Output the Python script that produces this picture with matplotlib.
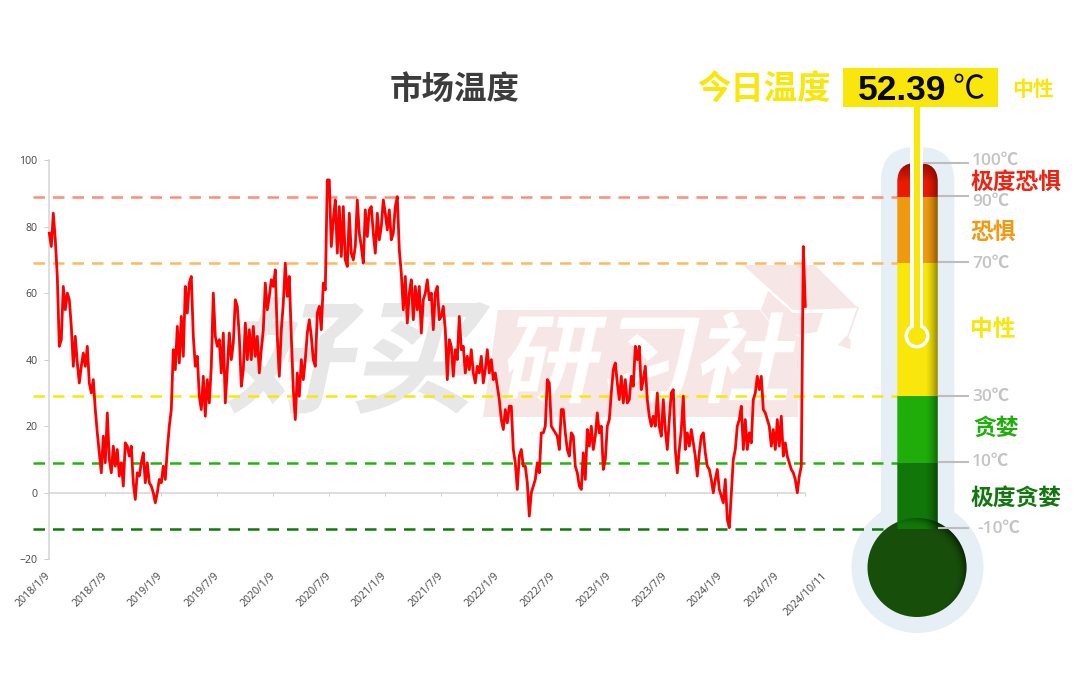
import numpy as np
import matplotlib
matplotlib.use("Agg")
import matplotlib.pyplot as plt
from matplotlib.patches import Rectangle, Circle, FancyBboxPatch, Polygon
from matplotlib.patheffects import AbstractPathEffect
from matplotlib.transforms import Affine2D, ScaledTranslation

plt.rcParams['font.family'] = ['Open Sans', 'Noto Sans CJK SC', 'DejaVu Sans']
CJK = ['Noto Sans CJK SC', 'DejaVu Sans']

# ---------- data ----------
h2018a = [78,74,84,76,65,44,46,62,55,60,58,50,38,47,39,33,38,42,38,44,33,30,34,25,18,12,6,17]
h2018b = [9,24,10,6,14,8,13,5,9,2,15,14,11,14,3,-2,6,5,9,12,3,9,3,2,0,-3,0,4]
h2019a = [3,8,4,13,20,25,43,37,50,39,53,41,62,54,63,65,47,38,41,29,25,35,23,34,27,38,60,47]
h2019b = [44,46,36,48,27,37,48,40,45,58,56,47,32,37,51,40,49,40,50,41,47,36,43,49,63,55,59,64]
h2020a = [62,67,47,35,49,57,69,59,65,47,31,22,36,29,40,34,40,48,52,47,40,38,54,56,49,63,61,94]
h2020b = [94,74,82,88,72,86,71,86,70,68,84,72,70,74,88,78,74,69,85,77,85,86,78,72,84,76,80,88]
h2021a = [84,79,85,76,78,86,89,73,66,55,65,51,60,64,52,62,55,62,48,58,60,64,58,60,49,60,62,52]
h2021b = [53,56,49,34,46,44,35,43,40,53,43,44,36,41,37,43,36,33,38,36,41,33,37,43,36,40,34,36]
h2022a = [32,28,22,19,25,21,26,26,13,9,1,11,13,8,8,3,-7,0,2,4,9,6,18,18,20,34,33,20]
h2022b = [19,18,17,13,25,25,18,13,11,18,17,8,6,2,1,12,4,19,14,20,13,17,24,18,20,7,10,20]
h2023a = [22,30,37,39,33,28,35,27,34,27,28,35,32,44,40,44,31,34,38,28,23,20,23,20,30,20,17,28]
h2023b = [19,13,22,30,31,13,6,13,19,29,13,18,14,19,15,11,5,12,17,18,12,8,7,4,0,4,7,1]
h2024a = [-1,-3,4,-8,-10.5,0,10,13,20,22,26,13,22,13,18,15,28,30,35,31,35,25,24,22,20,14,19,13]
h2024b = [22,14,23,11,15,11,9,7,6,4,0,5,8,74,56]
temperature = h2018a+h2018b+h2019a+h2019b+h2020a+h2020b+h2021a+h2021b+h2022a+h2022b+h2023a+h2023b+h2024a+h2024b

tick_labels = ['2018/1/9','2018/7/9','2019/1/9','2019/7/9','2020/1/9','2020/7/9','2021/1/9','2021/7/9',
               '2022/1/9','2022/7/9','2023/1/9','2023/7/9','2024/1/9','2024/7/9','2024/10/11']
tick_index = [0,28,56,84,112,140,168,196,224,252,280,308,336,364,378]
y_ticks = [-20,0,20,40,60,80,100]
thresholds = [88.9,69,29.2,8.9,-11]
threshold_colors = ['#FF8C78','#FFB85E','#FAE60A','#22B50F','#0E7A08']

W, H = 1080, 679
fig = plt.figure(figsize=(W/100, H/100), dpi=100, facecolor='white')

class Skew(AbstractPathEffect):
    def __init__(self, deg, x0, y0):
        super().__init__()
        self.deg, self.x0, self.y0 = deg, x0, y0
    def draw_path(self, renderer, gc, tpath, affine, rgbFace=None):
        t = affine + Affine2D().translate(-self.x0,-self.y0).skew_deg(self.deg,0).translate(self.x0,self.y0)
        renderer.draw_path(gc, tpath, t, rgbFace)

def px_axes(z):
    a = fig.add_axes([0,0,1,1], zorder=z)
    a.set_xlim(0,W); a.set_ylim(H,0); a.axis('off'); a.patch.set_alpha(0)
    return a

# ---------- background: watermark + halo ----------
bg = px_axes(0)
GR, PK = '#E7E7E7', '#F6E6E6'
bg.text(358,366,'好买',fontsize=90,fontweight=900,family=CJK,color=GR,ha='center',va='center',
        path_effects=[Skew(12,358,H-366)])
bg.add_patch(Polygon([(483,417),(498,310),(760,310),(772,326),(800,337),(798,417)],fc=PK,ec='none'))
bg.text(650,366,'研习社',fontsize=70,fontweight=900,family=CJK,color='white',ha='center',va='center',
        path_effects=[Skew(12,650,H-366)])
bg.add_patch(Polygon([(743,265),(815,265),(858,308),(793,310)],fc=PK,ec='none'))
bg.add_patch(Polygon([(768,291),(793,313),(823,313),(817,332),(795,335),(775,328),(761,310)],fc=PK,ec='none'))
bg.plot([858,846],[308,342],color=PK,lw=1.2)
bg.add_patch(Polygon([(838,345),(846,336),(851,340),(850,349)],fc=PK,ec='none'))

HALO = '#E6EEF6'
bg.add_patch(FancyBboxPatch((881,147),73.3,400,boxstyle='round,pad=0,rounding_size=34',fc=HALO,ec='none'))
bg.add_patch(Circle((917.5,567),66,fc=HALO,ec='none'))

# ---------- chart ----------
ax = fig.add_axes([49.3/W,(H-559.3)/H,756/W,399.3/H],zorder=1)
ax.patch.set_alpha(0)
ax.set_xlim(0,378); ax.set_ylim(-20,100)
xa, xb = (33-49.3)/756, (905-49.3)/756
for v,c in zip(thresholds,threshold_colors):
    ax.plot([xa,xb],[v,v],transform=ax.get_yaxis_transform(),color=c,lw=1.8,
            dashes=(4.6,3.2),dash_capstyle='butt',clip_on=False,zorder=2)
ax.plot(np.arange(len(temperature)),temperature,color='#FF0000',lw=2.0,clip_on=False,zorder=3,solid_joinstyle='round')
for s in ('top','right'):
    ax.spines[s].set_visible(False)
ax.spines['bottom'].set_position(('data',0))
for s in ('left','bottom'):
    ax.spines[s].set_color('#D4D4D4'); ax.spines[s].set_linewidth(1.1)
ax.set_yticks(y_ticks)
ax.set_xticks(tick_index)
ax.set_xticklabels(tick_labels,rotation=45,ha='right',va='center',rotation_mode='anchor')
ax.tick_params(axis='y',length=3.5,width=0.7,color='#CCCCCC',labelcolor='#444444',labelsize=7.6,pad=5)
ax.tick_params(axis='x',length=2.5,width=0.7,color='#CCCCCC',labelcolor='#444444',labelsize=7.6,pad=56)
last = ax.get_xticklabels()[-1]
last.set_transform(last.get_transform()+ScaledTranslation(20/100,0,fig.dpi_scale_trans))

# ---------- thermometer ----------
top = px_axes(2)
L, R = 897.3, 937.7
clip = FancyBboxPatch((L,163),R-L,380,boxstyle='round,pad=0,rounding_size=19',fc='none',ec='none')
top.add_patch(clip)
top.add_patch(Circle((917,567.5),49.5,fc='#174E0A',ec='none'))
bands = [(163,197,'#EA1B00'),(197,263,'#EF9A0C'),(263,396,'#F9E60A'),(396,463,'#1FAE09'),(463,529,'#117708')]
for y0,y1,c in bands:
    r = Rectangle((L,y0),R-L,y1-y0,fc=c,ec='none'); top.add_patch(r); r.set_clip_path(clip)
xx = np.linspace(L,R,80)
a = np.clip((xx-925)/(R-925),0,1)**1.6*0.42
img = np.zeros((1,80,4)); img[...,3] = a
im = top.imshow(img,extent=(L,R,529,163),aspect='auto',zorder=3,interpolation='bilinear')
im.set_clip_path(clip)
yy = np.linspace(163,182,40)
img2 = np.zeros((40,1,4)); img2[...,0] = 0.35; img2[...,3] = np.clip(1-(yy-163)/19,0,1)[:,None]*0.6
im2 = top.imshow(img2,extent=(L,R,182,163),aspect='auto',zorder=3,interpolation='bilinear')
im2.set_clip_path(clip)
gx,gy = np.meshgrid(np.linspace(867,967,200),np.linspace(517,618,200))
d = np.hypot(gx-909,gy-573)
img3 = np.zeros((200,200,4)); img3[...,3] = np.clip((d-47)/12,0,1)**2*0.55
im3 = top.imshow(img3,extent=(867,967,618,517),aspect='auto',zorder=1,interpolation='bilinear')
bulb_clip = Circle((917,567.5),49.5,transform=top.transData)
im3.set_clip_path(bulb_clip)
top.set_xlim(0,W); top.set_ylim(H,0)

# stem
YEL = '#F9E60A'
top.add_patch(Rectangle((910.3,100),13,232,fc='white',ec='none',zorder=4))
top.add_patch(Circle((917,336),12.5,fc='white',ec='none',zorder=4))
top.add_patch(Circle((917,336),9,fc=YEL,ec='none',zorder=5))
top.add_patch(Rectangle((914,100),6,236,fc=YEL,ec='none',zorder=5))
top.add_patch(Rectangle((843,68),155,39,fc=YEL,ec='none',zorder=6))

# scale marks
GREY = '#BDBDBD'
for y,x0 in [(162.7,923),(196,938),(262.3,938),(395.7,938),(462,938),(528.3,938)]:
    top.plot([x0,969],[y,y],color=GREY,lw=1.5,zorder=4,solid_capstyle='butt')
for s,x,y in [('100℃',972,160.5),('90℃',972,202),('70℃',972,263.5),('30℃',972,397),('10℃',972,462),('-10℃',977,528.5)]:
    top.text(x,y,s,fontsize=12.5,fontweight='semibold',color='#C4C4C4',ha='left',va='center',zorder=7)
for s,x,y,c in [('极度恐惧',970.5,182,'#EE2410'),('恐惧',970.5,232.5,'#F09A14'),('中性',970.5,329.5,YEL),
                ('贪婪',973,428.5,'#20AE0C'),('极度贪婪',970.5,498.5,'#137610')]:
    top.text(x,y,s,fontsize=16.4,fontweight='bold',family=CJK,color=c,ha='left',va='center',zorder=7)

# headline
top.text(455,90,'市场温度',fontsize=23.4,fontweight='bold',family=CJK,color='#3C3C3C',ha='center',va='center',zorder=7)
top.text(764,90,'今日温度',fontsize=24,fontweight='bold',family=CJK,color=YEL,ha='center',va='center',zorder=7)
top.text(858,90,'52.39',fontsize=25.5,fontweight='bold',family=['Liberation Sans'],color='#0A0A0A',ha='left',va='center',zorder=7)
top.text(952,89,'℃',fontsize=23,family=CJK,color='#0A0A0A',ha='left',va='center',zorder=7)
top.text(1033,89,'中性',fontsize=15,fontweight='bold',family=CJK,color=YEL,ha='center',va='center',zorder=7)

fig.savefig('out.png',dpi=100)
